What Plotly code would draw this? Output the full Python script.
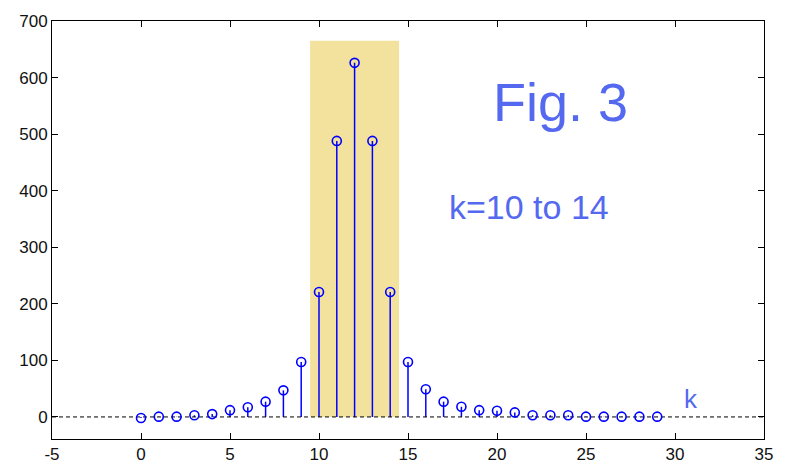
import plotly.graph_objects as go

# Sample index and sequence magnitude
k = list(range(30))
values = [-2, 0.5, 0.5, 3, 5, 12, 17, 27, 47, 97,
          221, 488, 626, 488, 221, 97, 49, 27, 18, 12,
          11, 8, 3, 3, 3, 0.5, 0.5, 0.5, 0.5, 0.5]

# Highlighted band k = 10..14
band_x = [9.5, 14.5]
band_y = [0, 665]

x_ticks = list(range(-5, 40, 5))
x_labels = [str(v) for v in x_ticks]
y_ticks = list(range(0, 800, 100))

blue = "#0000FF"
text_blue = "#5468F0"

stem_x, stem_y = [], []
for xi, yi in zip(k, values):
    stem_x += [xi, xi, None]
    stem_y += [0, yi, None]

W, H = 788, 476
ml, mr, mt, mb = 52, 24, 16, 31
pw, ph = W - ml - mr, H - mt - mb


def px(xp):
    return (xp - ml) / pw


def py(yp):
    return 1 - (yp - mt) / ph


fig = go.Figure()

fig.add_shape(type="rect", x0=band_x[0], x1=band_x[1], y0=band_y[0], y1=band_y[1],
              xref="x", yref="y", fillcolor="#F3E29E", line=dict(width=0), layer="below")

fig.add_trace(go.Scatter(x=stem_x, y=stem_y, mode="lines",
                         line=dict(color=blue, width=1.5), hoverinfo="skip"))
fig.add_trace(go.Scatter(x=[-5, 35], y=[0, 0], mode="lines",
                         line=dict(color="black", width=1, dash="4px,3px"), hoverinfo="skip"))
fig.add_trace(go.Scatter(x=k, y=values, mode="markers",
                         marker=dict(symbol="circle-open", size=9, color=blue,
                                     line=dict(width=1.6, color=blue))))

font_family = "Arial, Liberation Sans"
for txt, xp, yp, size in [("Fig. 3", 560, 99, 54),
                          ("k=10 to 14", 529, 207, 34),
                          ("k", 691, 404, 26)]:
    fig.add_annotation(x=px(xp), y=py(yp), xref="paper", yref="paper", text=txt,
                       xanchor="center", yanchor="middle", showarrow=False,
                       font=dict(family=font_family, size=size, color=text_blue))

axis_common = dict(showline=True, linecolor="black", linewidth=1, mirror="ticks",
                   ticks="inside", ticklen=6, tickcolor="black", showgrid=False,
                   zeroline=False, tickfont=dict(family=font_family, size=17, color="#111"))

fig.update_xaxes(range=[-5, 35], tickvals=x_ticks, ticktext=x_labels, **axis_common)
fig.update_yaxes(range=[-39, 700], tickvals=y_ticks, **axis_common)

fig.update_layout(width=W, height=H, showlegend=False,
                  margin=dict(l=ml, r=mr, t=mt, b=mb),
                  plot_bgcolor="white", paper_bgcolor="white")

fig.write_html("out.html")
